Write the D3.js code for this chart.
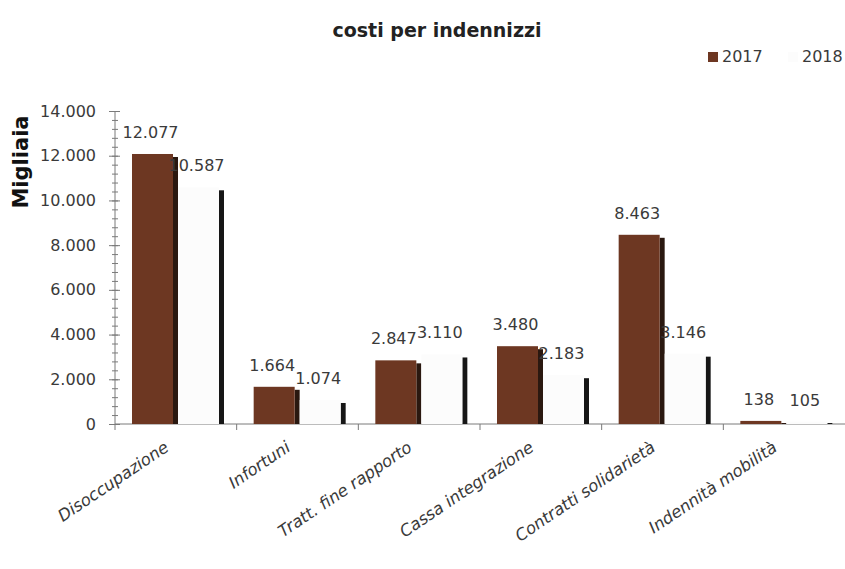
<!DOCTYPE html>
<html>
<head>
<meta charset="utf-8">
<script src="https://cdn.jsdelivr.net/npm/d3@7"></script>
<style>
    body { margin: 0; background: #ffffff; }
    text { font-family: "DejaVu Sans", sans-serif; }
</style>
</head>
<body>
<div id="drawing_region"></div>
<script>
const categories = ['Disoccupazione', 'Infortuni', 'Tratt. fine rapporto', 'Cassa integrazione', 'Contratti solidarietà', 'Indennità mobilità'];
const years = ['2017', '2018'];
const values2017 = [12077, 1664, 2847, 3480, 8463, 138];
const values2018 = [10587, 1074, 3110, 2183, 3146, 105];
const yticks = [0, 2000, 4000, 6000, 8000, 10000, 12000, 14000];

const data = categories.map( (c, i) => ({ category: c, values: [
    { year: '2017', value: values2017[i] },
    { year: '2018', value: values2018[i] }
]}));

const it = d3.formatLocale({ decimal: ',', thousands: '.', grouping: [3], currency: ['', '€'] });
const fmt = it.format(',d');

class BarChart {

    constructor( config, data ) {
        this.config = {
            parent: config.parent,
            width: config.width || 845,
            height: config.height || 569,
        }
        this.data = data;
        this.init();
    }

    init() {
        let self = this;

        self.config.margin = {top: 111, right: 0, bottom: 145, left: 115};

        self.svg = d3.select( self.config.parent )
            .append('svg')
            .attr('width', self.config.width)
            .attr('height', self.config.height);

        self.chart = self.svg.append('g')
            .attr('transform', `translate(${self.config.margin.left}, ${self.config.margin.top})`);

        self.inner_width = self.config.width - self.config.margin.left - self.config.margin.right;
        self.inner_height = self.config.height - self.config.margin.top - self.config.margin.bottom;

        self.xscale = d3.scaleBand().domain(categories).range([0, self.inner_width]);
        self.x1 = d3.scaleBand().domain(years).range([17, 109]);
        self.yscale = d3.scaleLinear().domain([0, 14000]).range([self.inner_height, 0]);

        self.colors = { '2017': '#6d3722', '2018': '#fcfcfc' };
        self.sides = { '2017': '#2a1810', '2018': '#161616' };
    }

    render() {
        let self = this;
        const bw = self.x1.bandwidth();
        const face = bw - 5;

        // minor y ticks
        self.chart.append('g')
            .call( d3.axisLeft(self.yscale).tickValues(d3.range(0, 14001, 400)).tickFormat('') )
            .call( g => g.select('.domain').remove() )
            .call( g => g.selectAll('.tick line').attr('x1', 3).attr('x2', -3).attr('stroke', '#7a7a7a') );

        // major y ticks
        self.chart.append('g')
            .call( d3.axisLeft(self.yscale).tickValues(yticks).tickFormat(fmt).tickPadding(13) )
            .call( g => g.select('.domain').attr('stroke', '#7a7a7a').attr('d', `M0,${self.inner_height}V0`) )
            .call( g => g.selectAll('.tick line').attr('x1', 5).attr('x2', -6).attr('stroke', '#7a7a7a') )
            .call( g => g.selectAll('.tick text')
                .attr('font-size', 16).attr('fill', '#3a3a3a')
                .attr('font-family', '"DejaVu Sans", sans-serif') );

        // x axis
        const xg = self.chart.append('g')
            .attr('transform', `translate(0, ${self.inner_height})`);
        xg.append('line')
            .attr('x1', 0).attr('x2', self.inner_width)
            .attr('stroke', '#7a7a7a');
        xg.selectAll('.xt')
            .data(categories)
            .join('line')
            .attr('class', 'xt')
            .attr('x1', d => self.xscale(d)).attr('x2', d => self.xscale(d))
            .attr('y1', 0).attr('y2', 6)
            .attr('stroke', '#7a7a7a');
        xg.selectAll('.xl')
            .data(categories)
            .join('text')
            .attr('class', 'xl')
            .attr('text-anchor', 'end')
            .attr('font-size', 16.5)
            .attr('font-style', 'italic')
            .attr('fill', '#3a3a3a')
            .attr('transform', d => `translate(${self.xscale(d) + self.xscale.bandwidth()/2 - 6}, 26) rotate(-34)`)
            .text(d => d);

        // bars
        const groups = self.chart.selectAll('.grp')
            .data(self.data)
            .join('g')
            .attr('class', 'grp')
            .attr('transform', d => `translate(${self.xscale(d.category)}, 0)`);

        const bars = groups.selectAll('.bar')
            .data(d => d.values)
            .join('g')
            .attr('class', 'bar');

        bars.append('rect')
            .attr('x', d => self.x1(d.year) + face)
            .attr('y', d => Math.min(self.yscale(d.value) + 3, self.inner_height - 1))
            .attr('width', 5)
            .attr('height', d => Math.max(self.inner_height - self.yscale(d.value) - 3, 1))
            .attr('fill', d => self.sides[d.year]);

        bars.append('rect')
            .attr('x', d => self.x1(d.year))
            .attr('y', d => self.yscale(d.value))
            .attr('width', face)
            .attr('height', d => self.inner_height - self.yscale(d.value))
            .attr('fill', d => self.colors[d.year]);

        bars.append('text')
            .attr('x', d => self.x1(d.year) + face/2 - 2)
            .attr('y', d => self.yscale(d.value) - 16)
            .attr('text-anchor', 'middle')
            .attr('font-size', 16)
            .attr('fill', '#3a3a3a')
            .text(d => fmt(d.value));

        // title
        self.svg.append('text')
            .attr('x', 437).attr('y', 37)
            .attr('text-anchor', 'middle')
            .attr('font-size', 19)
            .attr('font-weight', 'bold')
            .attr('fill', '#222222')
            .text('costi per indennizzi');

        // y label
        self.svg.append('text')
            .attr('transform', 'translate(28, 162) rotate(-90)')
            .attr('text-anchor', 'middle')
            .attr('font-size', 21)
            .attr('font-weight', 'bold')
            .attr('fill', '#111111')
            .text('Migliaia');

        // legend
        const legend = self.svg.selectAll('.leg')
            .data(years)
            .join('g')
            .attr('class', 'leg')
            .attr('transform', (d, i) => `translate(${708 + i * 80}, 52)`);
        legend.append('rect')
            .attr('width', 10).attr('height', 10)
            .attr('fill', d => self.colors[d]);
        legend.append('text')
            .attr('x', 14).attr('y', 10)
            .attr('font-size', 16)
            .attr('fill', '#3a3a3a')
            .text(d => d);
    }
}

const bar_chart = new BarChart( { parent: '#drawing_region', width: 845, height: 569 }, data );
bar_chart.render();
</script>
</body>
</html>
